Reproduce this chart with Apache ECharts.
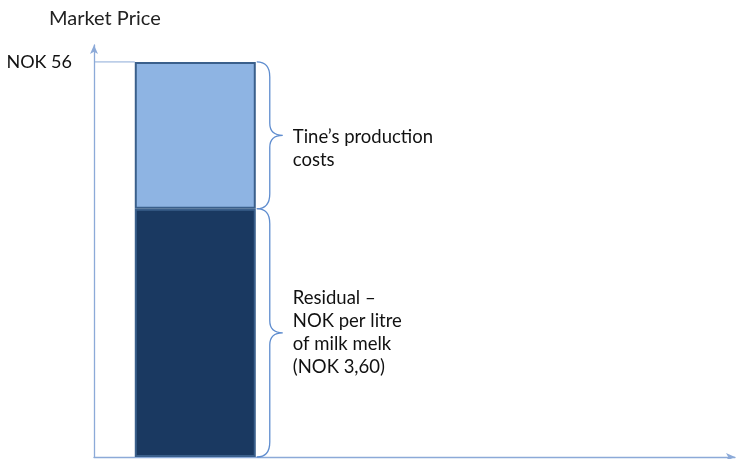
<!DOCTYPE html>
<html>
<head>
<meta charset="utf-8">
<script src="https://cdn.jsdelivr.net/npm/echarts@6/dist/echarts.min.js"></script>
<style>html,body{margin:0;padding:0;background:#fff}#c{width:737px;height:459px}</style>
</head>
<body>
<div id="c"></div>
<script>
// ---- data ----
const titleText = 'Market Price';
const marketPrice = 56;               // NOK 56 (top of bar)
const residualValue = [35.2];         // lower segment
const productionCosts = [20.8];       // upper segment
const barPosition = [15.8];           // x value of the bar
const braceLabels = ["Tine’s production\ncosts", "Residual –\nNOK per litre\nof milk melk\n(NOK 3,60)"];
const yTickValues = [56];
const yAxisTop = 58.4;

// ---- styling ----
const FONT = '18.5px Lato';
const BAR_W = 121;
const AXIS_COLOR = '#8CAAD8';
const BRACE_COLOR = '#5F8DCF';

const braceData = [
  [barPosition[0], residualValue[0], residualValue[0] + productionCosts[0], 0],
  [barPosition[0], 0, residualValue[0], 1]
];

const chart = echarts.init(document.getElementById('c'));
chart.setOption({
  animation: false,
  title: {
    text: titleText, left: 44, top: 4,
    textStyle: { fontFamily: 'Lato', fontSize: 20, fontWeight: 'normal', color: '#222' }
  },
  grid: { left: 94, right: 2, top: 45, bottom: 2, containLabel: false },
  xAxis: {
    type: 'value', min: 0, max: 100,
    axisLine: { show: true, lineStyle: { color: AXIS_COLOR, width: 1.3 }, symbol: ['none', 'arrow'], symbolSize: [6, 9] },
    axisTick: { show: false }, axisLabel: { show: false }, splitLine: { show: false }
  },
  yAxis: {
    type: 'value', min: 0, max: yAxisTop,
    axisLine: { show: true, lineStyle: { color: AXIS_COLOR, width: 1.3 }, symbol: ['none', 'arrow'], symbolSize: [6, 9] },
    axisTick: { show: false },
    axisLabel: {
      show: true, customValues: yTickValues, margin: 22,
      formatter: v => 'NOK ' + v,
      fontFamily: 'Lato', fontSize: 18, color: '#111'
    },
    splitLine: { show: false }
  },
  series: [
    {
      type: 'custom', z: 1, silent: true,
      data: [[0, marketPrice]],
      renderItem: (params, api) => {
        const a = api.coord([api.value(0), api.value(1)]);
        const b = api.coord([barPosition[0], api.value(1)]);
        return { type: 'line', shape: { x1: a[0], y1: a[1], x2: b[0] - BAR_W / 2, y2: b[1] },
          style: { stroke: AXIS_COLOR, lineWidth: 1 } };
      }
    },
    {
      type: 'bar', stack: 'p', barWidth: BAR_W, z: 2,
      dimensions: ['val', 'pos'], encode: { x: 'pos', y: 'val' },
      data: barPosition.map((x, i) => [residualValue[i], x]),
      itemStyle: { color: '#1A3961', borderColor: '#3A5F8B', borderWidth: 2 }
    },
    {
      type: 'bar', stack: 'p', barWidth: BAR_W, z: 2,
      dimensions: ['val', 'pos'], encode: { x: 'pos', y: 'val' },
      data: barPosition.map((x, i) => [productionCosts[i], x]),
      itemStyle: { color: '#8EB4E3', borderColor: '#3A5F8B', borderWidth: 2 }
    },
    {
      type: 'custom', z: 3, silent: true,
      data: braceData,
      renderItem: (params, api) => {
        const top = api.coord([api.value(0), api.value(2)]);
        const bot = api.coord([api.value(0), api.value(1)]);
        const idx = api.value(3);
        const x0 = top[0] + BAR_W / 2 + 1, x1 = x0 + 13, x2 = x0 + 26;
        const yt = top[1], yb = bot[1], ym = (yt + yb) / 2;
        const d = `M${x0} ${yt} C${x0 + 9} ${yt} ${x1} ${yt + 5} ${x1} ${yt + 15} ` +
          `L${x1} ${ym - 12} C${x1} ${ym - 4} ${x1 + 5} ${ym} ${x2} ${ym} ` +
          `C${x1 + 5} ${ym} ${x1} ${ym + 4} ${x1} ${ym + 12} ` +
          `L${x1} ${yb - 15} C${x1} ${yb - 5} ${x0 + 9} ${yb} ${x0} ${yb}`;
        const isTop = idx === 0;
        return {
          type: 'group',
          children: [
            { type: 'path', shape: { pathData: d }, style: { fill: null, stroke: BRACE_COLOR, lineWidth: 1.3 } },
            { type: 'text', style: {
                x: x2 + 10, y: isTop ? ym - 10 : ym,
                text: braceLabels[idx], font: FONT, fill: '#111',
                verticalAlign: isTop ? 'top' : 'middle', lineHeight: 23
            } }
          ]
        };
      }
    }
  ]
});
</script>
</body>
</html>
